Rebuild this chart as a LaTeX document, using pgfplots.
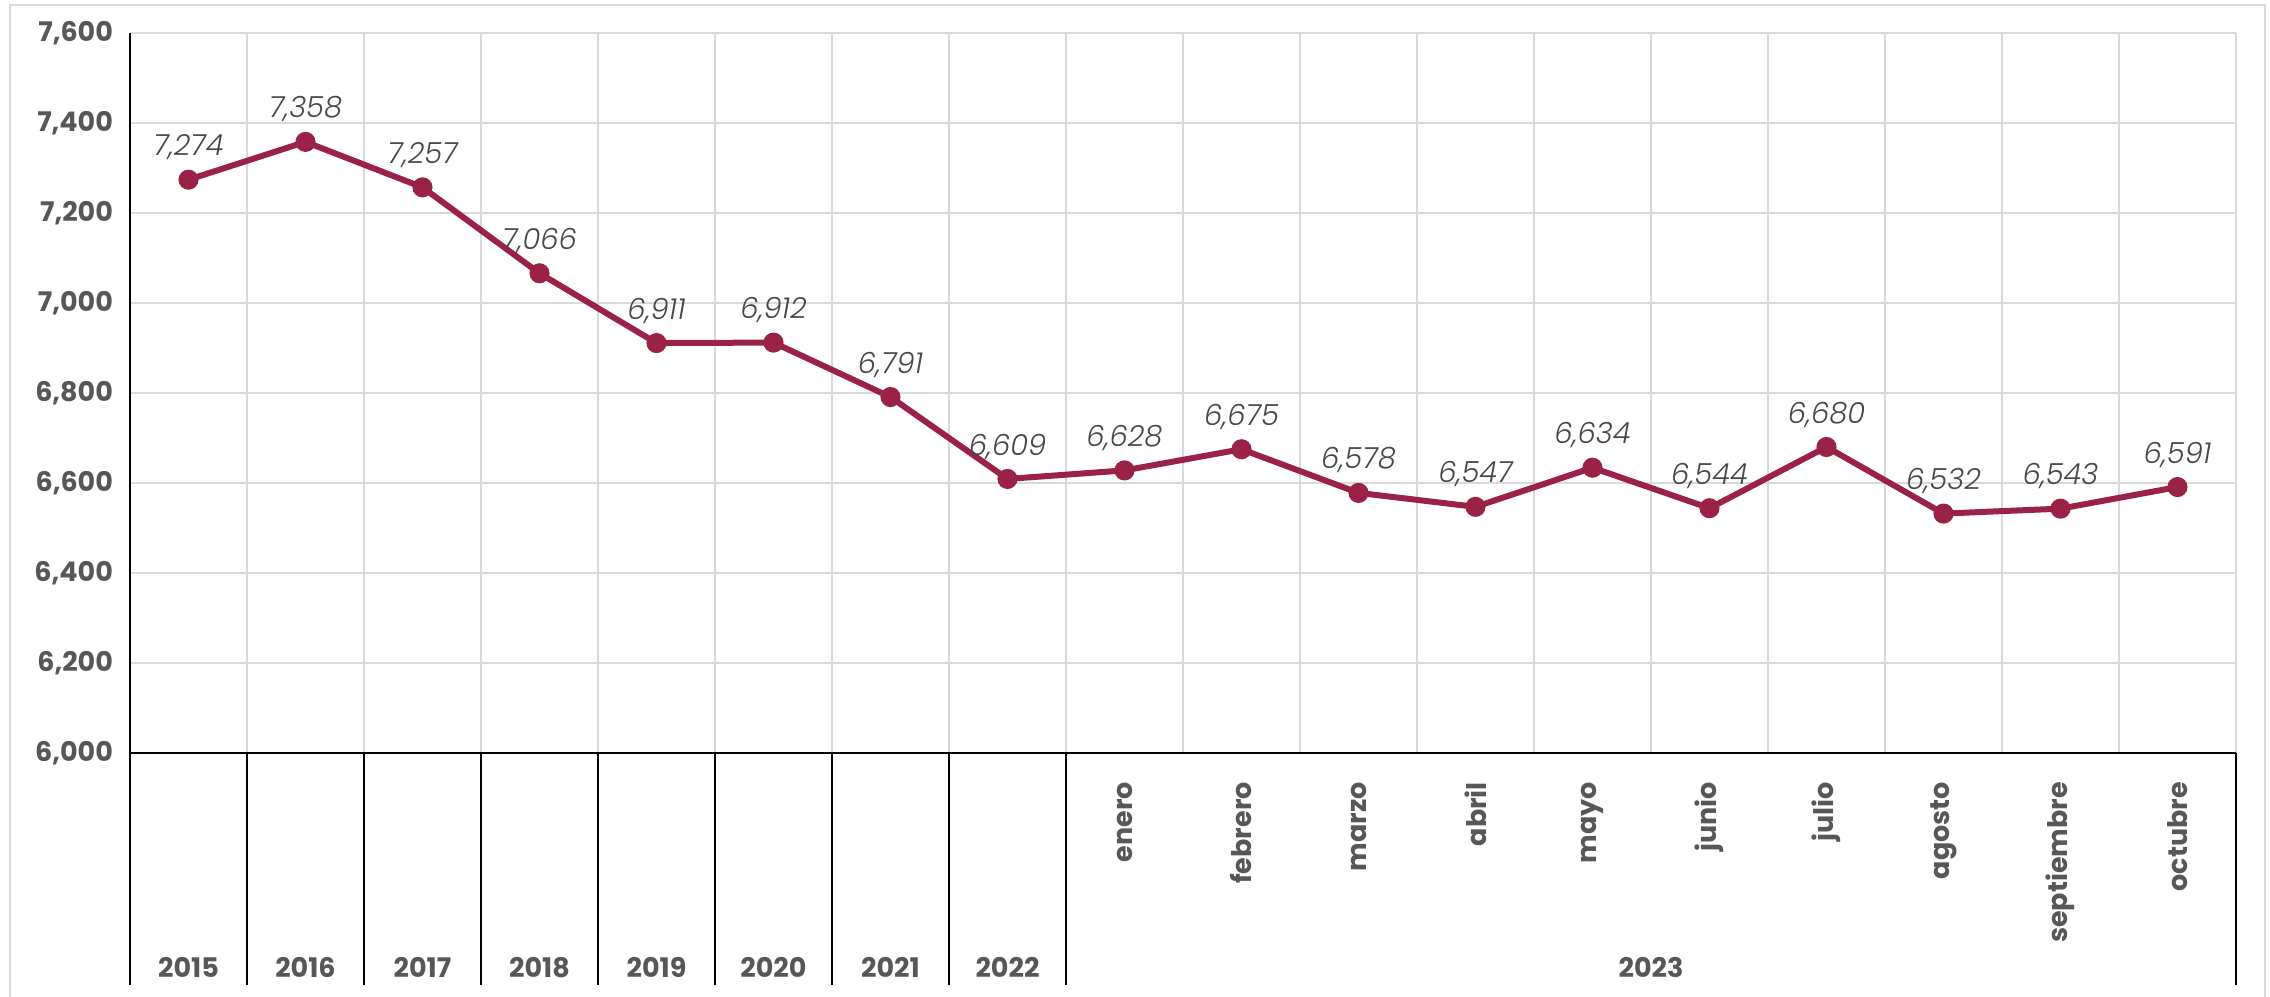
\documentclass[border=0pt]{standalone}
\usepackage{fontspec}
\setmainfont{Poppins}
\newfontfamily\lightfont{Poppins Light}
\usepackage{pgfplots}
\pgfplotsset{compat=1.18}
\definecolor{linec}{HTML}{9B2247}
\definecolor{gridc}{HTML}{D9D9D9}
\definecolor{txtc}{HTML}{575757}
\definecolor{labc}{HTML}{474747}
\begin{document}
\begin{tikzpicture}
\path[use as bounding box] (0,0) rectangle (1135pt,498pt);
\draw[gridc, line width=1.2pt] (5pt,-5pt) -- (5pt,495.5pt) -- (1132.5pt,495.5pt) -- (1132.5pt,-5pt);
\begin{axis}[
  at={(65pt,121.5pt)}, anchor=south west,
  scale only axis, width=1053pt, height=360pt,
  xmin=0, xmax=18, ymin=6000, ymax=7600,
  xtick={0,1,...,18}, xticklabels={},
  ytick={6000,6200,...,7600},
  major tick length=0pt,
  grid=major,
  major grid style={draw=gridc, line width=1pt},
  axis line style={draw=none},
  clip=false,
  /pgf/number format/assume math mode=true,
  /pgf/number format/1000 sep={,},
  yticklabel style={font=\fontsize{13.5}{15}\selectfont\bfseries, text=txtc, xshift=-5pt},
  nodes near coords,
  every node near coord/.append style={anchor=south, yshift=5pt, font=\fontsize{14.5}{16}\selectfont\lightfont\itshape, text=labc},
]
\draw[black, line width=1pt] (axis cs:0,7600) -- (axis cs:0,5484);
\draw[black, line width=1pt] (axis cs:0,6000) -- (axis cs:18,6000);
\draw[black, line width=1pt] (axis cs:1,6000) -- (axis cs:1,5484);
\draw[black, line width=1pt] (axis cs:2,6000) -- (axis cs:2,5484);
\draw[black, line width=1pt] (axis cs:3,6000) -- (axis cs:3,5484);
\draw[black, line width=1pt] (axis cs:4,6000) -- (axis cs:4,5484);
\draw[black, line width=1pt] (axis cs:5,6000) -- (axis cs:5,5484);
\draw[black, line width=1pt] (axis cs:6,6000) -- (axis cs:6,5484);
\draw[black, line width=1pt] (axis cs:7,6000) -- (axis cs:7,5484);
\draw[black, line width=1pt] (axis cs:8,6000) -- (axis cs:8,5484);
\draw[black, line width=1pt] (axis cs:18,6000) -- (axis cs:18,5484);
\addplot[color=linec, line width=3pt, mark=*, mark size=3.5pt, mark options={fill=linec}] coordinates {
(0.5,7274) (1.5,7358) (2.5,7257) (3.5,7066) (4.5,6911) (5.5,6912) (6.5,6791) (7.5,6609)
(8.5,6628) (9.5,6675) (10.5,6578) (11.5,6547) (12.5,6634) (13.5,6544) (14.5,6680) (15.5,6532) (16.5,6543) (17.5,6591)
};
\tikzset{yl/.style={font=\fontsize{13.5}{15}\selectfont\bfseries, text=txtc}}
\tikzset{ml/.style={font=\fontsize{13.5}{15}\selectfont\bfseries, text=txtc, rotate=90, anchor=east}}
\node[yl] at (axis cs:0.5,5524) {2015};
\node[yl] at (axis cs:1.5,5524) {2016};
\node[yl] at (axis cs:2.5,5524) {2017};
\node[yl] at (axis cs:3.5,5524) {2018};
\node[yl] at (axis cs:4.5,5524) {2019};
\node[yl] at (axis cs:5.5,5524) {2020};
\node[yl] at (axis cs:6.5,5524) {2021};
\node[yl] at (axis cs:7.5,5524) {2022};
\node[yl] at (axis cs:13,5524) {2023};
\node[ml] at (axis cs:8.5,5951) {enero};
\node[ml] at (axis cs:9.5,5951) {febrero};
\node[ml] at (axis cs:10.5,5951) {marzo};
\node[ml] at (axis cs:11.5,5951) {abril};
\node[ml] at (axis cs:12.5,5951) {mayo};
\node[ml] at (axis cs:13.5,5951) {junio};
\node[ml] at (axis cs:14.5,5951) {julio};
\node[ml] at (axis cs:15.5,5951) {agosto};
\node[ml] at (axis cs:16.5,5951) {septiembre};
\node[ml] at (axis cs:17.5,5951) {octubre};
\end{axis}
\end{tikzpicture}
\end{document}
